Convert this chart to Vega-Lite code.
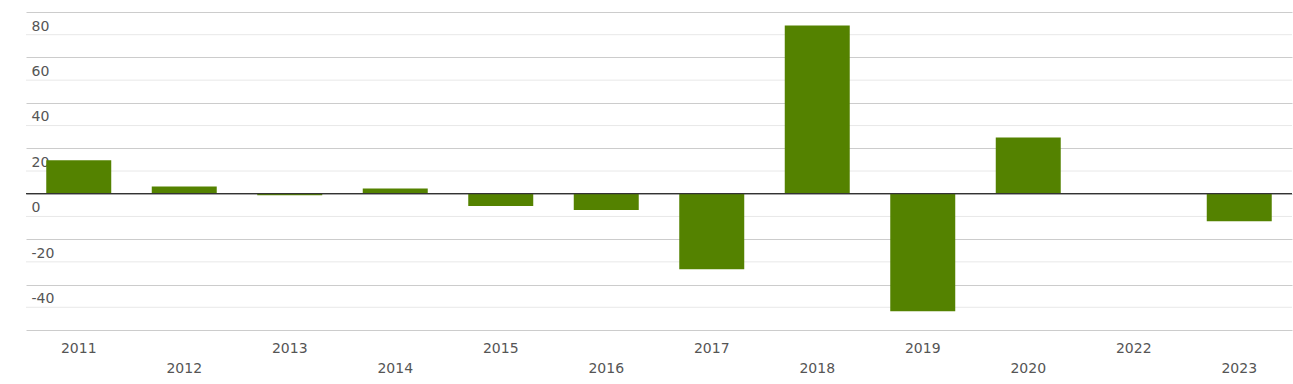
{
  "$schema": "https://vega.github.io/schema/vega-lite/v6.json",
  "width": 1266,
  "height": 318,
  "autosize": {"type": "none"},
  "padding": {"left": 26, "top": 12, "right": 1, "bottom": 54},
  "background": "white",
  "config": {
    "view": {"stroke": null},
    "font": "DejaVu Sans"
  },
  "datasets": {
    "bars": [
      {"year": "2011", "value": 14.7},
      {"year": "2012", "value": 3.2},
      {"year": "2013", "value": -0.7},
      {"year": "2014", "value": 2.3},
      {"year": "2015", "value": -5.4},
      {"year": "2016", "value": -7.2},
      {"year": "2017", "value": -33.2},
      {"year": "2018", "value": 74.1},
      {"year": "2019", "value": -51.7},
      {"year": "2020", "value": 24.8},
      {"year": "2022", "value": 0},
      {"year": "2023", "value": -12.1}
    ],
    "minor": [
      {"value": -50}, {"value": -30}, {"value": -10}, {"value": 10},
      {"value": 30}, {"value": 50}, {"value": 70}
    ],
    "zero": [{"value": 0}]
  },
  "layer": [
    {
      "data": {"name": "minor"},
      "mark": {"type": "rule", "color": "#e8e8e8", "strokeWidth": 1},
      "encoding": {"y": {"field": "value", "type": "quantitative"}}
    },
    {
      "data": {"name": "bars"},
      "mark": {"type": "bar", "color": "#548200"},
      "encoding": {
        "x": {
          "field": "year",
          "type": "nominal",
          "scale": {"paddingInner": 0.384, "paddingOuter": 0.192},
          "axis": {
            "title": null,
            "domain": false,
            "ticks": false,
            "tickSize": 0,
            "grid": false,
            "labelAngle": 0,
            "labelFontSize": 14,
            "labelColor": "#555555",
            "labelBaseline": "top",
            "labelPadding": 11,
            "labelLineHeight": 20,
            "labelExpr": "indexof(['2012','2014','2016','2018','2020','2023'], datum.label) >= 0 ? ['', datum.label] : datum.label"
          }
        },
        "y": {
          "field": "value",
          "type": "quantitative",
          "scale": {"domain": [-60, 80], "nice": false, "zero": false},
          "axis": {
            "title": null,
            "domain": false,
            "ticks": false,
            "tickSize": 0,
            "values": [-60, -40, -20, 0, 20, 40, 60, 80],
            "grid": true,
            "gridColor": "#cccccc",
            "labelExpr": "datum.value > -60 ? toString(datum.value) : ''",
            "labelAlign": "left",
            "labelBaseline": "top",
            "labelOffset": 7,
            "labelPadding": -5,
            "labelFontSize": 14,
            "labelColor": "#555555"
          }
        }
      }
    },
    {
      "data": {"name": "zero"},
      "mark": {"type": "rule", "color": "#333333", "strokeWidth": 1.3},
      "encoding": {"y": {"field": "value", "type": "quantitative"}}
    }
  ]
}
